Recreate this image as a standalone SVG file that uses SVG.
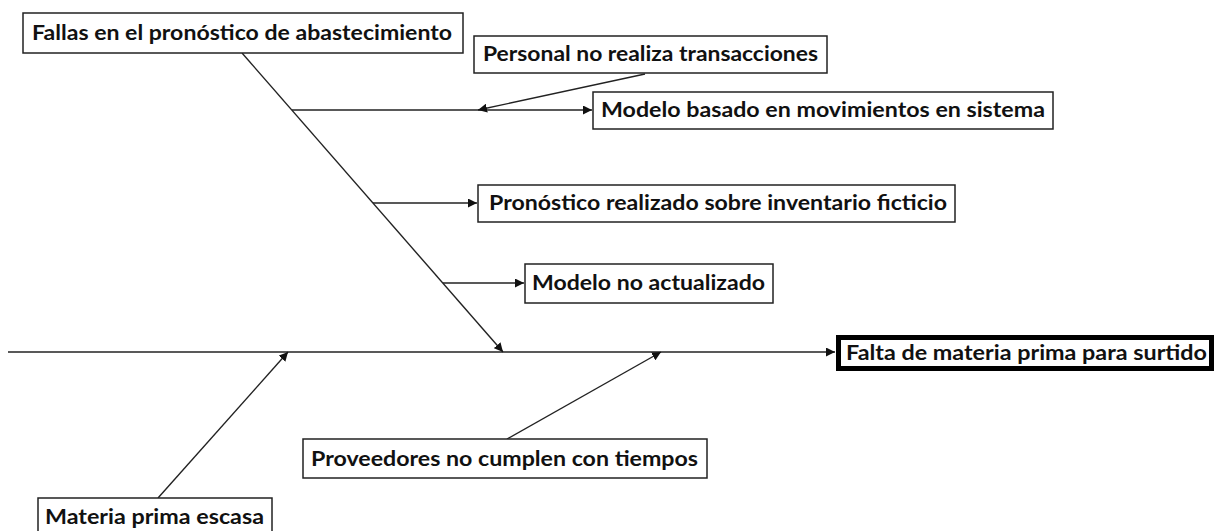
<svg xmlns="http://www.w3.org/2000/svg" width="1217" height="531" viewBox="0 0 1217 531">
<style>
.box{fill:#fff;stroke:#222;stroke-width:1.5}
.lbl{font-family:Lato,"Liberation Sans",sans-serif;font-weight:bold;font-size:20px;fill:#111}
.ln{stroke:#222;stroke-width:1.4;fill:none}
</style>
<defs>
<marker id="ah" viewBox="0 0 10 10" refX="10" refY="5" markerWidth="9" markerHeight="9" markerUnits="userSpaceOnUse" orient="auto">
<path d="M0,0 L10,5 L0,10 z" fill="#111"/>
</marker>
</defs>
<rect width="1217" height="531" fill="#fff"/>
<g id="connectors">
<line class="ln" x1="8" y1="352" x2="835" y2="352" marker-end="url(#ah)"/>
<line class="ln" x1="242" y1="53" x2="503" y2="352" marker-end="url(#ah)"/>
<line class="ln" x1="292" y1="110" x2="592" y2="110" marker-end="url(#ah)"/>
<line class="ln" x1="645" y1="74" x2="478" y2="110" marker-end="url(#ah)"/>
<line class="ln" x1="373" y1="203" x2="477" y2="203" marker-end="url(#ah)"/>
<line class="ln" x1="443" y1="283" x2="524" y2="283" marker-end="url(#ah)"/>
<line class="ln" x1="158" y1="498" x2="288" y2="352" marker-end="url(#ah)"/>
<line class="ln" x1="507" y1="439" x2="661" y2="352" marker-end="url(#ah)"/>
</g>
<g id="n-fallas">
<rect class="box" x="23" y="13" width="440" height="40"/>
<text class="lbl" x="32" y="40" textLength="420" lengthAdjust="spacingAndGlyphs">Fallas en el pronóstico de abastecimiento</text>
</g>
<g id="n-personal">
<rect class="box" x="474" y="36" width="353" height="37"/>
<text class="lbl" x="483" y="61" textLength="335" lengthAdjust="spacingAndGlyphs">Personal no realiza transacciones</text>
</g>
<g id="n-modelo-basado">
<rect class="box" x="593" y="92" width="460" height="37"/>
<text class="lbl" x="601" y="117" textLength="444" lengthAdjust="spacingAndGlyphs">Modelo basado en movimientos en sistema</text>
</g>
<g id="n-pronostico">
<rect class="box" x="478" y="185" width="477" height="37"/>
<text class="lbl" x="489" y="210" textLength="458" lengthAdjust="spacingAndGlyphs">Pronóstico realizado sobre inventario ficticio</text>
</g>
<g id="n-modelo-no">
<rect class="box" x="525" y="264" width="248" height="39"/>
<text class="lbl" x="532" y="290" textLength="233" lengthAdjust="spacingAndGlyphs">Modelo no actualizado</text>
</g>
<g id="n-falta">
<rect x="838.5" y="337.5" width="373" height="31" fill="#fff" stroke="#000" stroke-width="5"/>
<text class="lbl" x="846" y="360" textLength="361" lengthAdjust="spacingAndGlyphs">Falta de materia prima para surtido</text>
</g>
<g id="n-proveedores">
<rect class="box" x="303" y="439" width="404" height="39"/>
<text class="lbl" x="311" y="466" textLength="387" lengthAdjust="spacingAndGlyphs">Proveedores no cumplen con tiempos</text>
</g>
<g id="n-materia">
<rect class="box" x="38" y="498" width="234" height="40"/>
<text class="lbl" x="45" y="524" textLength="219" lengthAdjust="spacingAndGlyphs">Materia prima escasa</text>
</g>
</svg>
